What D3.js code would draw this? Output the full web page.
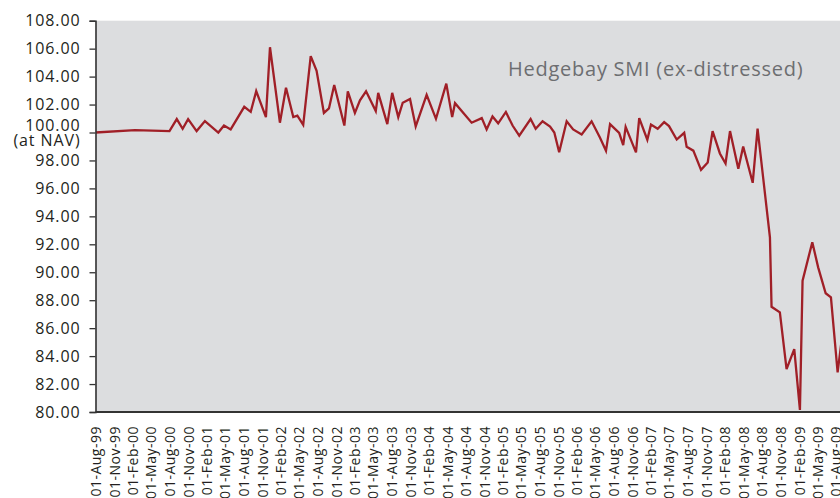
<!DOCTYPE html>
<html>
<head>
<meta charset="utf-8">
<script src="https://cdn.jsdelivr.net/npm/d3@7"></script>
<style>
  body { margin: 0; background: #fff; }
  svg { display: block; font-family: "Open Sans", sans-serif; }
</style>
</head>
<body>
<svg id="chart" width="840" height="498"></svg>
<script>
const dates = [
  "1999-08-01","2000-02-12","2000-07-31","2000-09-05","2000-10-04","2000-10-31","2000-12-12","2001-01-22",
  "2001-03-29","2001-04-26","2001-05-29","2001-08-04","2001-09-05","2001-10-02","2001-11-19","2001-12-09",
  "2002-01-27","2002-02-26","2002-04-03","2002-04-23","2002-05-22","2002-06-28","2002-07-27","2002-09-01",
  "2002-09-26","2002-10-22","2002-12-11","2002-12-28","2003-02-01","2003-02-26","2003-03-28","2003-05-15",
  "2003-05-27","2003-07-11","2003-08-04","2003-09-03","2003-09-25","2003-10-31","2003-11-28","2004-01-21",
  "2004-03-07","2004-04-27","2004-05-26","2004-06-09","2004-08-30","2004-10-19","2004-11-12","2004-12-11",
  "2005-01-08","2005-02-15","2005-03-20","2005-04-22","2005-06-17","2005-07-12","2005-08-15","2005-09-21",
  "2005-10-12","2005-11-05","2005-12-12","2006-01-13","2006-02-24","2006-04-14","2006-05-25","2006-06-24",
  "2006-07-14","2006-08-28","2006-09-17","2006-09-29","2006-11-19","2006-12-05","2007-01-14","2007-02-01",
  "2007-03-06","2007-04-07","2007-05-01","2007-06-08","2007-07-15","2007-07-27","2007-08-29","2007-10-06",
  "2007-11-08","2007-12-02","2008-01-07","2008-02-04","2008-02-26","2008-04-07","2008-05-01","2008-06-17",
  "2008-07-11","2008-09-10","2008-09-18","2008-10-29","2008-12-01","2009-01-08","2009-02-05","2009-02-18",
  "2009-04-07","2009-05-06","2009-06-12","2009-07-08","2009-08-10","2009-09-15"
];
const values = [
  100.00,100.17,100.10,100.96,100.27,100.96,100.10,100.82,
  100.00,100.50,100.22,101.84,101.48,102.96,101.10,106.10,
  100.70,103.20,101.10,101.20,100.55,105.47,104.42,101.40,
  101.72,103.40,100.50,102.95,101.40,102.30,102.95,101.53,
  102.84,100.60,102.84,101.10,102.13,102.40,100.43,102.70,
  100.98,103.50,101.10,102.10,100.70,101.03,100.22,101.15,
  100.66,101.47,100.50,99.78,100.96,100.27,100.80,100.42,
  100.00,98.58,100.80,100.22,99.86,100.80,99.64,98.69,
  100.60,99.97,99.10,100.40,98.58,101.03,99.48,100.57,
  100.27,100.74,100.46,99.50,99.98,98.98,98.70,97.33,
  97.85,100.10,98.50,97.78,100.10,97.40,98.99,96.40,
  100.27,92.50,87.53,87.13,83.07,84.50,80.15,89.40,
  92.15,90.35,88.50,88.20,82.84,87.00
];
const yTicks = d3.range(80, 108.01, 2);
const tickDates = d3.timeMonth.range(new Date(1999, 7, 1), new Date(2009, 8, 1), 3);
const title = "Hedgebay SMI (ex-distressed)";

const parseDate = d3.timeParse("%Y-%m-%d");
const data = dates.map((d, i) => ({ date: parseDate(d), value: values[i] }));

const width = 840, height = 498;
const margin = { top: 20.7, left: 95.5, bottom: 86 };

const svg = d3.select("#chart");

const xScale = d3.scaleTime()
  .domain([new Date(1999, 7, 1), new Date(2009, 7, 1)])
  .range([margin.left, 835.8]);

const yScale = d3.scaleLinear()
  .domain([80, 108])
  .range([height - margin.bottom, margin.top]);

// plot background
svg.append("rect")
  .attr("x", margin.left)
  .attr("y", margin.top)
  .attr("width", width - margin.left)
  .attr("height", yScale(80) - margin.top)
  .attr("fill", "#dcdddf");

svg.append("clipPath").attr("id", "plotClip")
  .append("rect")
  .attr("x", margin.left)
  .attr("y", 0)
  .attr("width", width - margin.left)
  .attr("height", yScale(80) + 2);

// line
const lineGenerator = d3.line()
  .x(d => xScale(d.date))
  .y(d => yScale(d.value));

svg.append("path")
  .datum(data)
  .attr("clip-path", "url(#plotClip)")
  .attr("d", lineGenerator)
  .attr("fill", "none")
  .attr("stroke", "#a01f27")
  .attr("stroke-width", 2.3)
  .attr("stroke-linejoin", "miter");

// y axis
const yAxis = d3.axisLeft(yScale)
  .tickValues(yTicks)
  .tickSize(6)
  .tickPadding(9)
  .tickFormat(d3.format(".2f"));

const yAxisG = svg.append("g")
  .attr("transform", `translate(${margin.left},0)`)
  .call(yAxis);

yAxisG.select(".domain")
  .attr("stroke", "#333")
  .attr("stroke-width", 1.6);
yAxisG.selectAll(".tick line")
  .attr("stroke", "#333")
  .attr("stroke-width", 1.3);
yAxisG.selectAll(".tick text")
  .attr("fill", "#231f20")
  .style("font-size", "16px")
  .style("letter-spacing", "0.9px")
  .style("font-family", "'Open Sans', sans-serif");

// 100 = at NAV, two-line label
yAxisG.selectAll(".tick")
  .filter(d => d === 100)
  .select("text")
  .text(null)
  .attr("dy", null)
  .call(t => {
    t.append("tspan").attr("x", -15).attr("y", -1.7).text("100.00");
    t.append("tspan").attr("x", -15).attr("y", 12.8).text("(at NAV)");
  });

// x axis
const xAxis = d3.axisBottom(xScale)
  .tickValues(tickDates)
  .tickSize(0)
  .tickFormat(d3.timeFormat("%d-%b-%y"));

const xAxisG = svg.append("g")
  .attr("transform", `translate(0,${yScale(80)})`)
  .call(xAxis);

xAxisG.select(".domain")
  .attr("d", `M${margin.left},0H${width}`)
  .attr("stroke", "#333")
  .attr("stroke-width", 2);

xAxisG.selectAll(".tick text")
  .attr("transform", "rotate(-90)")
  .attr("text-anchor", "end")
  .attr("x", -14)
  .attr("y", 0)
  .attr("dy", "0.35em")
  .attr("fill", "#231f20")
  .style("font-size", "14px")
  .style("letter-spacing", "0.5px")
  .style("font-family", "'Open Sans', sans-serif");

// title
svg.append("text")
  .attr("x", 508)
  .attr("y", 76)
  .attr("fill", "#6d6e71")
  .style("font-size", "20px")
  .style("letter-spacing", "0.75px")
  .text(title);
</script>
</body>
</html>
